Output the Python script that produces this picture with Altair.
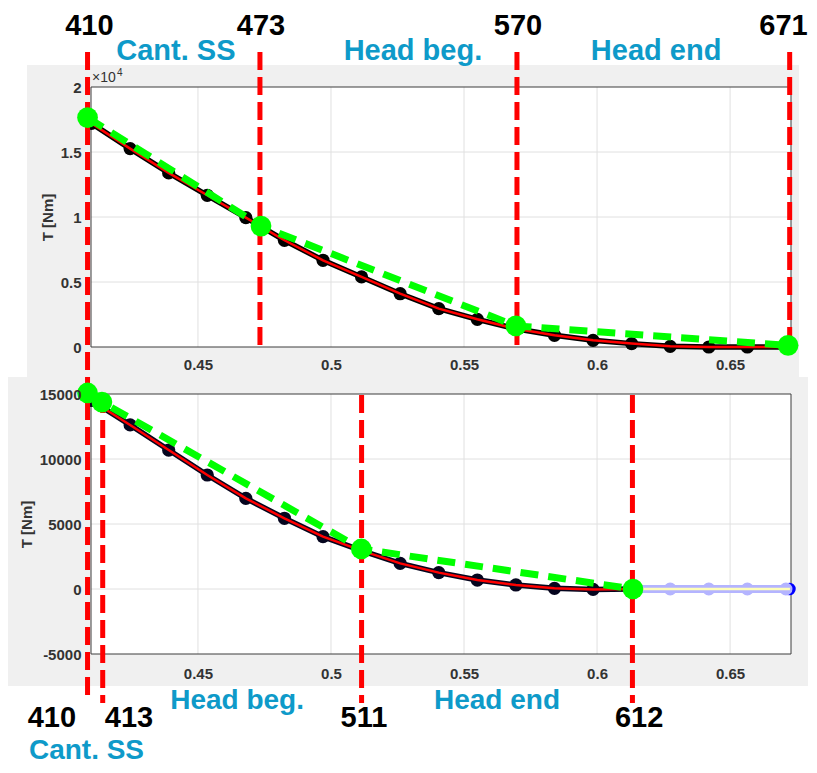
import altair as alt
import pandas as pd

# ---------------- data ----------------
X_TOP = [0.4100, 0.4245, 0.4390, 0.4535, 0.4680, 0.4825, 0.4970, 0.5115, 0.5260, 0.5405,
         0.5550, 0.5695, 0.5840, 0.5985, 0.6130, 0.6275, 0.6420, 0.6565, 0.6710]
T_TOP = [17200, 15260, 13390, 11670, 9950, 8210, 6670, 5390, 4100, 2950,
         2130, 1400, 900, 515, 260, 50, 0, 0, 0]
X_BOT = [0.4100, 0.4245, 0.4390, 0.4535, 0.4680, 0.4825, 0.4970, 0.5115, 0.5260, 0.5405,
         0.5550, 0.5695, 0.5840, 0.5985, 0.6130]
T_BOT = [14500, 12620, 10690, 8770, 6970, 5440, 4030, 2950, 1970, 1260, 690, 310, 50, -30, 0]

GX_TOP = [0.4085, 0.4737, 0.5695, 0.6718]
GT_TOP = [17650, 9300, 1620, 130]
GX_BOT = [0.4085, 0.4139, 0.5114, 0.6135]
GT_BOT = [15080, 14380, 3080, 0]

BLUE_LINE_X = [0.6135, 0.6725]
BLUE_LINE_T = [0, 0]
BLUE_DOT_X = [0.6275, 0.6420, 0.6565, 0.6710]
BLUE_DOT_T = [0, 0, 0, 0]
BLUE_END_X = [0.6723]
BLUE_END_T = [0]

VX_TOP = [0.4085, 0.4733, 0.5699, 0.6724]
VX_BOT = [0.4085, 0.4142, 0.5115, 0.6133]

NUM_TOP = ["410", "473", "570", "671"]
NUM_TOP_X = [0.4092, 0.4737, 0.5703, 0.6701]
SEG_TOP = ["Cant. SS", "Head beg.", "Head end"]
SEG_TOP_X = [0.4417, 0.5308, 0.6222]
NUM_BOT = ["410", "413", "511", "612"]
NUM_BOT_X = [0.3951, 0.4241, 0.5124, 0.6158]
SEG_BOT = ["Head beg.", "Head end"]
SEG_BOT_X = [0.4647, 0.5624]
SEG_BOT2 = ["Cant. SS"]
SEG_BOT2_X = [0.4081]

X_TICKS = [0.45, 0.5, 0.55, 0.6, 0.65]
Y_TICKS_TOP = [0, 5000, 10000, 15000, 20000]
Y_GRID_TOP = [5000, 10000, 15000]
Y_TICKS_BOT = [-5000, 0, 5000, 10000, 15000]
Y_GRID_BOT = [0, 5000, 10000]
X_DOMAIN = [0.4098, 0.6729]
Y_DOMAIN_TOP = [0, 20000]
Y_DOMAIN_BOT = [-5000, 15000]

# ---------------- style ----------------
W, H = 700, 260
FONT = "Liberation Sans, Arial, Helvetica, sans-serif"
TEAL = "#0e9ac9"
GRAY_BG = "#f0f0f0"
AX_COL = "#333333"
GRID_COL = "#e0e0e0"
GREEN = "#00ff00"
RED = "#ff0000"

ONE = pd.DataFrame({"d": [0]})


def xenc(pad):
    return alt.X("x:Q", scale=alt.Scale(domain=X_DOMAIN, nice=False, zero=False),
                 axis=alt.Axis(values=X_TICKS, format="~g", grid=False, domain=False, ticks=False,
                               labelPadding=pad, labelFont=FONT, labelFontSize=15,
                               labelFontWeight="bold", labelColor=AX_COL, labelFlush=False,
                               labelOverlap=False, title=None, zindex=1))


def yenc(domain, ticks, expr):
    return alt.Y("t:Q", scale=alt.Scale(domain=domain, nice=False, zero=False),
                 axis=alt.Axis(values=ticks, labelExpr=expr, grid=False, domain=False, ticks=False,
                               labelPadding=10, labelFont=FONT, labelFontSize=15,
                               labelFontWeight="bold", labelColor=AX_COL, labelFlush=False,
                               labelOverlap=False, title="T [Nm]", titleFont=FONT,
                               titleFontSize=15, titleFontWeight="bold", titleColor=AX_COL,
                               titlePadding=5, zindex=1))


def vrect(x1, x2, y1, y2, **kw):
    return alt.Chart(ONE).mark_rect(**kw).encode(
        x=alt.value(x1), x2=alt.value(x2), y=alt.value(y1), y2=alt.value(y2))


def panel(cx, ct, gx, gt, vx_first, vx_rest, ydom, yticks, ygrid, expr, xpad,
          frame, first_rule, rest_rule, texts, extra, dark):
    X = xenc(xpad)
    Y = yenc(ydom, yticks, expr)
    fx1, fx2, fy1, fy2 = frame
    layers = list(extra.get("anchor", []))
    layers += [
        vrect(fx1, fx2, fy1, 0, color=GRAY_BG),
        vrect(fx1, fx2, H, fy2, color=GRAY_BG),
        vrect(fx1, 0, 0, H, color=GRAY_BG),
        vrect(W, fx2, 0, H, color=GRAY_BG),
        vrect(0, W, 0, H, color="white"),
        alt.Chart(pd.DataFrame({"x": X_TICKS})).mark_rule(color=GRID_COL, strokeWidth=1).encode(x=X),
        alt.Chart(pd.DataFrame({"t": ygrid})).mark_rule(color=GRID_COL, strokeWidth=1).encode(y=Y),
        vrect(0, W, 0, H, fill="white", fillOpacity=0, stroke="#3c3c3c", strokeWidth=1),
    ]
    cdf = pd.DataFrame({"x": cx, "t": ct})
    layers += [
        alt.Chart(cdf).mark_line(color=dark, strokeWidth=5.5).encode(x=X, y=Y),
        alt.Chart(cdf).mark_circle(color=dark, size=175, opacity=1).encode(x=X, y=Y),
        alt.Chart(cdf).mark_line(color=RED, strokeWidth=2.5).encode(x=X, y=Y),
    ]
    layers += extra.get("blue", [])
    rule = dict(color=RED, strokeWidth=5, strokeDash=[18, 7])
    layers += [
        alt.Chart(pd.DataFrame({"x": vx_first})).mark_rule(**rule).encode(
            x=X, y=alt.value(first_rule[0]), y2=alt.value(first_rule[1])),
        alt.Chart(pd.DataFrame({"x": vx_rest})).mark_rule(**rule).encode(
            x=X, y=alt.value(rest_rule[0]), y2=alt.value(rest_rule[1])),
    ]
    gdf = pd.DataFrame({"x": gx, "t": gt})
    layers += [
        alt.Chart(gdf).mark_line(color=GREEN, strokeWidth=7, strokeDash=[18, 10]).encode(x=X, y=Y),
        alt.Chart(gdf).mark_circle(color=GREEN, size=430, opacity=1).encode(x=X, y=Y),
    ]
    for (xs, labels, ypos, size, color) in texts:
        layers.append(
            alt.Chart(pd.DataFrame({"x": xs, "label": labels})).mark_text(
                font=FONT, fontSize=size, fontWeight="bold", color=color,
                align="center", baseline="alphabetic").encode(
                x=X, y=alt.value(ypos), text="label:N"))
    layers += extra.get("mult", [])
    return alt.layer(*layers).properties(width=W, height=H)


# ---- top panel ----
top_extra = {
    "anchor": [vrect(-83, -82, -79, -78, color="white")],
    "mult": [
        alt.Chart(ONE).mark_text(font=FONT, fontSize=14, color=AX_COL, align="left",
                                 baseline="alphabetic").encode(
            x=alt.value(1), y=alt.value(-5), text=alt.value("×10")),
        alt.Chart(ONE).mark_text(font=FONT, fontSize=10, color=AX_COL, align="left",
                                 baseline="alphabetic").encode(
            x=alt.value(26), y=alt.value(-11), text=alt.value("4")),
    ],
}
top = panel(
    X_TOP, T_TOP, GX_TOP, GT_TOP, VX_TOP[:1], VX_TOP[1:],
    Y_DOMAIN_TOP, Y_TICKS_TOP, Y_GRID_TOP, "format(datum.value / 10000, '~g')", 10,
    (-64, 708, -22, 290), (-35, 290), (-35, 263),
    [
        (NUM_TOP_X, NUM_TOP, -52, 29, "black"),
        (SEG_TOP_X, SEG_TOP, -27, 29, TEAL),
    ],
    top_extra,
    "#000000",
)

# ---- bottom panel ----
Xb = xenc(12)
Yb = yenc(Y_DOMAIN_BOT, Y_TICKS_BOT, "")
blue_line = pd.DataFrame({"x": BLUE_LINE_X, "t": BLUE_LINE_T})
bot_extra = {
    "blue": [
        alt.Chart(pd.DataFrame({"x": BLUE_END_X, "t": BLUE_END_T})).mark_circle(
            color="#0000ff", size=160, opacity=1).encode(x=Xb, y=Yb),
        alt.Chart(blue_line).mark_line(color="#b4b4ff", strokeWidth=8).encode(x=Xb, y=Yb),
        alt.Chart(pd.DataFrame({"x": BLUE_DOT_X, "t": BLUE_DOT_T})).mark_circle(
            color="#b4b4ff", size=170, opacity=1).encode(x=Xb, y=Yb),
        alt.Chart(blue_line).mark_line(color="#ffffb8", strokeWidth=2.5).encode(x=Xb, y=Yb),
    ],
}
neg_expr = "datum.value < 0 ? '-' + format(-datum.value, 'd') : format(datum.value, 'd')"
bottom = panel(
    X_BOT, T_BOT, GX_BOT, GT_BOT, VX_BOT[:1], VX_BOT[1:],
    Y_DOMAIN_BOT, Y_TICKS_BOT, Y_GRID_BOT, neg_expr, 12,
    (-83, 717, -17, 292), (-17, 304), (1, 309),
    [
        (SEG_BOT_X, SEG_BOT, 315, 28, TEAL),
        (NUM_BOT_X, NUM_BOT, 333, 29, "black"),
        (SEG_BOT2_X, SEG_BOT2, 365, 28, TEAL),
    ],
    bot_extra,
    "#05051e",
)

chart = alt.vconcat(top, bottom, spacing=47, bounds="flush").properties(
    padding=0, background="white"
).configure_view(strokeWidth=0)

chart.save("out.html", embed_options={"renderer": "svg", "actions": False})
